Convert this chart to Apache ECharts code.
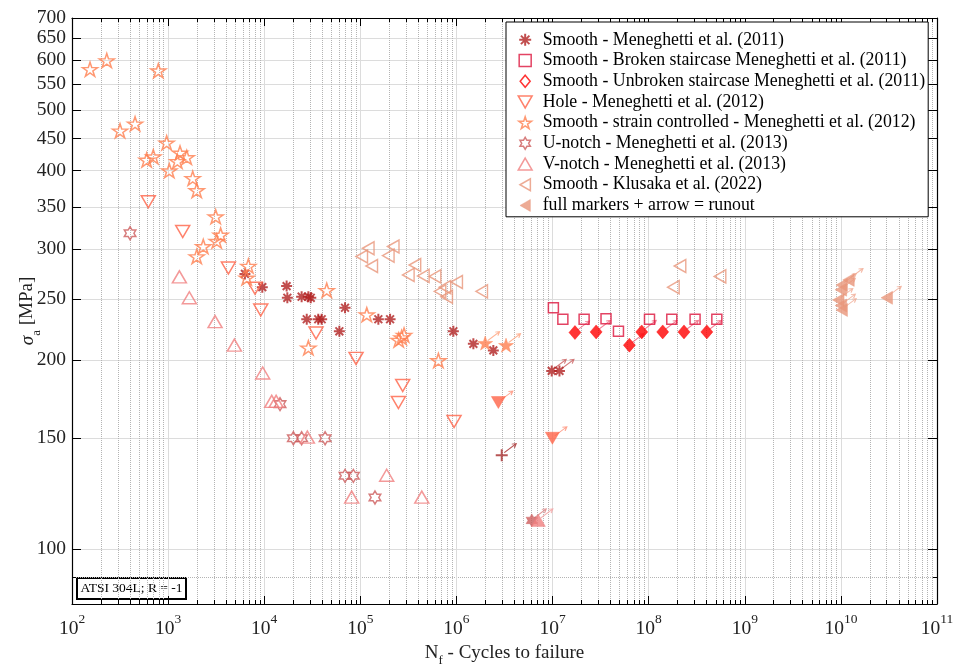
<!DOCTYPE html>
<html><head><meta charset="utf-8">
<script src="https://cdn.jsdelivr.net/npm/echarts@6/dist/echarts.min.js"></script>
<style>html,body{margin:0;padding:0;background:#fff}#c{width:953px;height:666px}</style>
</head><body><div id="c"></div>
<script>
// ---------- axis ticks ----------
const xDecades = [2,3,4,5,6,7,8,9,10,11];            // exponents of 10
const yTickValues = [100,150,200,250,300,350,400,450,500,550,600,650,700];
const yMinorValues = [90];
const yRange = [81.7, 700];

// ---------- data (N = cycles, S = stress amplitude MPa) ----------
// Smooth - Meneghetti et al. (2011)
const sm11_N = [6300, 9550, 17100, 17400, 24500, 28800, 30500, 27700, 36500, 39600, 69300, 60500, 154000, 204000, 929000, 1500000, 2420000];
const sm11_S = [274, 261, 262, 251, 252, 252, 251, 232, 232, 232, 242, 222, 232, 232, 222, 212, 207];
const sm11Run_N = [9.8e6, 1.18e7];
const sm11Run_S = [192, 192];
const sm11Plus_N = [2.96e6];
const sm11Plus_S = [141];
// Smooth - Broken staircase Meneghetti et al. (2011)
const brk_N = [1.02e7, 1.28e7, 2.13e7, 3.6e7, 4.85e7, 1.02e8, 1.74e8, 3.04e8, 5.12e8];
const brk_S = [242, 232, 232, 232.5, 222, 232, 232, 232, 232];
// Smooth - Unbroken staircase Meneghetti et al. (2011) (runouts)
const unb_N = [1.71e7, 2.84e7, 6.3e7, 8.47e7, 1.4e8, 2.33e8, 4.03e8];
const unb_S = [221, 221.5, 211, 221.5, 221.5, 221.5, 221.5];
// Hole - Meneghetti et al. (2012)
const hole_N = [622, 1419, 4240, 8020, 9200, 34600, 90200, 276000, 249000, 944000];
const hole_S = [357, 320, 280, 260, 240, 220.6, 201, 182, 171, 159.5];
const holeRun_N = [2.73e6, 9.96e6];
const holeRun_S = [171, 150];
// Smooth - strain controlled - Meneghetti et al. (2012)
const sc_N = [154, 230, 791, 316, 453, 966, 598, 701, 1330, 1563, 1248, 1029, 1803, 1985, 3126, 3520, 3204, 2322, 1985, 6840, 6570, 44700, 116700, 28800, 251000, 285000, 269000, 649000];
const sc_S = [580, 599, 577, 463, 475, 443, 416, 421, 427, 420, 414, 400, 389, 372, 338, 316, 309, 303, 292, 282, 270, 258, 236, 209, 215, 219, 217, 199.5];
const scRun_N = [1.99e6, 3.28e6];
const scRun_S = [212.6, 211];
// U-notch - Meneghetti et al. (2013)
const un_N = [402, 14600, 20100, 24500, 43000, 69300, 84600, 142000];
const un_S = [318, 170, 150, 150, 150, 130.7, 130.7, 120.7];
const unRun_N = [6.08e6];
const unRun_S = [111];
// V-notch - Meneghetti et al. (2013)
const vn_N = [1310, 1663, 3080, 4890, 9640, 11970, 13300, 28100, 188000, 81300, 436000];
const vn_S = [271, 251, 230, 211, 190.5, 171.7, 171.7, 150.6, 131, 120.9, 120.9];
const vnRun_N = [7.12e6];
const vnRun_S = [111];
// Smooth - Klusaka et al. (2022)
const kl_N = [121000, 103500, 131500, 220000, 195500, 370000, 316000, 453000, 599000, 1006000, 760000, 675000, 792000, 1833000, 2.12e8, 1.81e8, 5.53e8];
const kl_S = [301, 292, 282, 303, 293, 283, 273, 272, 271.5, 266, 261, 257, 252, 257, 282, 261, 271.5];
const klRun_N = [1.2e10, 1.02e10, 1.0e10, 9.4e9, 1.0e10, 1.02e10, 3.0e10];
const klRun_S = [268, 263, 258.5, 249, 244, 240, 251];

const names = [
  'Smooth - Meneghetti et al. (2011)',
  'Smooth - Broken staircase Meneghetti et al. (2011)',
  'Smooth - Unbroken staircase Meneghetti et al. (2011)',
  'Hole - Meneghetti et al. (2012)',
  'Smooth - strain controlled - Meneghetti et al. (2012)',
  'U-notch - Meneghetti et al. (2013)',
  'V-notch - Meneghetti et al. (2013)',
  'Smooth - Klusaka et al. (2022)',
  'full markers + arrow = runout'
];

// ---------- styling ----------
const FONT = '"Liberation Serif", "Times New Roman", serif';
const COL = {sm11:'#b22222', brk:'#dc143c', unb:'#ff0000', hole:'#ff6347', sc:'#ff7f50', un:'#cd5c5c', vn:'#f08080', kl:'#e9967a'};
const SYM = {
  asterisk: 'path://M0,-10L0,10M-10,0L10,0M-7.07,-7.07L7.07,7.07M-7.07,7.07L7.07,-7.07',
  plus: 'path://M0,-10L0,10M-10,0L10,0',
  square: 'path://M0,0L10,0L10,10L0,10Z',
  diamond: 'path://M5,0L10,6L5,12L0,6Z',
  down: 'path://M0,0L10,0L5,8.66Z',
  up: 'path://M5,0L10,8.66L0,8.66Z',
  left: 'path://M0,5L8.66,0L8.66,10Z',
  star: 'path://M0,-10L2.245,-3.09L9.511,-3.09L3.633,1.18L5.878,8.09L0,3.82L-5.878,8.09L-3.633,1.18L-9.511,-3.09L-2.245,-3.09Z',
  hex: 'path://M0,-10L2.887,-5L8.66,-5L5.774,0L8.66,5L2.887,5L0,10L-2.887,5L-8.66,5L-5.774,0L-8.66,-5L-2.887,-5Z',
  arrow: 'path://M0,9L12,0M7.53,0.54L12,0L10.23,4.14'
};
const NONE = 'rgba(0,0,0,0)';
const lg = v => Math.log10(v);
const pts = (N, S) => N.map((n, i) => [lg(n), lg(S[i])]);

function hollow(name, N, S, sym, size, color, bw) {
  return {type:'scatter', name, data: pts(N,S), symbol: sym, symbolSize: size,
    itemStyle:{color: NONE, borderColor: color, borderWidth: bw || 1.5}, z: 3, silent: true};
}
function filled(name, N, S, sym, size, color) {
  return {type:'scatter', name, data: pts(N,S), symbol: sym, symbolSize: size,
    itemStyle:{color: color, borderColor: color, borderWidth: 0.5}, z: 4, silent: true};
}
function arrows(name, N, S, color) {
  return {type:'scatter', name, data: pts(N,S), symbol: SYM.arrow, symbolSize: [12,9], symbolOffset:[8.5,-7],
    itemStyle:{color: NONE, borderColor: color, borderWidth: 1}, z: 2, silent: true};
}

const series = [
  arrows('a1', sm11Run_N, sm11Run_S, '#c85a5a'),
  arrows('a2', sm11Plus_N, sm11Plus_S, '#a52a2a'),
  arrows('a3', unb_N, unb_S, '#f0607a'),
  arrows('a4', holeRun_N, holeRun_S, '#ff8c73'),
  arrows('a5', scRun_N, scRun_S, '#ffa07a'),
  arrows('a6', unRun_N, unRun_S, '#d98080'),
  arrows('a7', vnRun_N, vnRun_S, '#f4a0a0'),
  arrows('a8', klRun_N, klRun_S, '#f0a890'),
  hollow(names[0], sm11_N, sm11_S, SYM.asterisk, 11, COL.sm11, 2),
  hollow('sm11 runout', sm11Run_N, sm11Run_S, SYM.asterisk, 11, COL.sm11, 2),
  hollow('sm11 plus runout', sm11Plus_N, sm11Plus_S, SYM.plus, 12, '#a52a2a', 2),
  hollow(names[1], brk_N, brk_S, SYM.square, 10, COL.brk, 1.5),
  filled(names[2], unb_N, unb_S, SYM.diamond, [12,14], COL.unb),
  hollow(names[3], hole_N, hole_S, SYM.down, [14,12], COL.hole, 1.5),
  filled('hole runout', holeRun_N, holeRun_S, SYM.down, [14,12], COL.hole),
  hollow(names[4], sc_N, sc_S, SYM.star, [15,14], COL.sc, 1.5),
  filled('sc runout', scRun_N, scRun_S, SYM.star, [15,14], COL.sc),
  hollow(names[5], un_N, un_S, SYM.hex, [11.5,13], COL.un, 1.5),
  filled('un runout', unRun_N, unRun_S, SYM.hex, [11.5,13], COL.un),
  hollow(names[6], vn_N, vn_S, SYM.up, [14,12], COL.vn, 1.5),
  filled('vn runout', vnRun_N, vnRun_S, SYM.up, [14,12], COL.vn),
  hollow(names[7], kl_N, kl_S, SYM.left, [11.5,13], COL.kl, 1.5),
  filled(names[8], klRun_N, klRun_S, SYM.left, [11.5,13], COL.kl)
];

const legendIcons = [
  [SYM.asterisk, NONE, COL.sm11, 2],
  [SYM.square, NONE, COL.brk, 1.5],
  [SYM.diamond, NONE, COL.unb, 1.5],
  [SYM.down, NONE, COL.hole, 1.5],
  [SYM.star, NONE, COL.sc, 1.5],
  [SYM.hex, NONE, COL.un, 1.5],
  [SYM.up, NONE, COL.vn, 1.5],
  [SYM.left, NONE, COL.kl, 1.5],
  [SYM.left, COL.kl, COL.kl, 0.5]
];

const xMinor = [];
for (let e = 2; e < 11; e++) for (let k = 2; k <= 9; k++) xMinor.push(lg(k * Math.pow(10, e)));
const yMajorLog = yTickValues.map(lg);
const yMinorLog = yMinorValues.map(lg);
const X_MIN = xDecades[0], X_MAX = xDecades[xDecades.length - 1];
const Y_MIN = lg(yRange[0]), Y_MAX = lg(yRange[1]);

const AX = {color:'#000', width:1.2};
const base = (extra) => Object.assign({type:'value', min:X_MIN, max:X_MAX, interval:1, axisPointer:{show:false}}, extra);
const ybase = (extra) => Object.assign({type:'value', min:Y_MIN, max:Y_MAX, axisPointer:{show:false}}, extra);

const option = {
  animation: false,
  backgroundColor: '#fff',
  grid: {left:72, right:16, top:18, bottom:62, containLabel:false, outerBoundsMode:'none'},
  xAxis: [
    base({position:'bottom', axisLine:{show:true, onZero:false, lineStyle:AX},
      axisTick:{show:true, inside:true, length:8, lineStyle:{color:'#000'}},
      axisLabel:{margin:8, formatter: v => '{b|10}{s|' + Math.round(v) + '}',
        rich:{b:{fontFamily:FONT, fontSize:19.5, color:'#222', verticalAlign:'bottom', lineHeight:27},
              s:{fontFamily:FONT, fontSize:13.5, color:'#222', verticalAlign:'top', lineHeight:27}}},
      splitLine:{show:true, lineStyle:{color:'#dcdcdc', width:1}},
      name:'{n|N}{f|f}{n| - Cycles to failure}', nameLocation:'middle', nameGap:40, nameMoveOverlap:false,
      nameTextStyle:{rich:{n:{fontFamily:FONT, fontSize:19, color:'#222', verticalAlign:'top', lineHeight:23},
                           f:{fontFamily:FONT, fontSize:13, color:'#222', verticalAlign:'bottom', lineHeight:23}}}}),
    base({position:'bottom', axisLine:{show:false, onZero:false},
      axisTick:{show:true, inside:true, length:4, customValues:xMinor, lineStyle:{color:'#000'}},
      axisLabel:{show:false}, splitLine:{show:true, lineStyle:{color:'#b4b4b4', type:'dotted', width:1}}}),
    base({position:'top', axisLine:{show:true, onZero:false, lineStyle:AX},
      axisTick:{show:true, inside:true, length:8, lineStyle:{color:'#000'}},
      axisLabel:{show:false}, splitLine:{show:false}}),
    base({position:'top', axisLine:{show:false, onZero:false},
      axisTick:{show:true, inside:true, length:4, customValues:xMinor, lineStyle:{color:'#000'}},
      axisLabel:{show:false}, splitLine:{show:false}})
  ],
  yAxis: [
    ybase({position:'left', axisLine:{show:true, onZero:false, lineStyle:AX},
      axisTick:{show:true, inside:true, length:9, customValues:yMajorLog, lineStyle:{color:'#000'}},
      axisLabel:{customValues:yMajorLog, margin:6, formatter: v => String(Math.round(Math.pow(10, v))),
        fontFamily:FONT, fontSize:19.5, color:'#222'},
      splitLine:{show:true, lineStyle:{color:'#dcdcdc', width:1}},
      name:'{g|σ}{a|a}{n| [MPa]}', nameLocation:'middle', nameGap:29, nameMoveOverlap:false,
      nameTextStyle:{rich:{g:{fontFamily:FONT, fontStyle:'italic', fontSize:19, color:'#222', verticalAlign:'top', lineHeight:25},
                           a:{fontFamily:FONT, fontSize:13, color:'#222', verticalAlign:'bottom', lineHeight:25},
                           n:{fontFamily:FONT, fontSize:19, color:'#222', verticalAlign:'top', lineHeight:25}}}}),
    ybase({position:'left', axisLine:{show:false, onZero:false},
      axisTick:{show:true, inside:true, length:4, customValues:yMinorLog, lineStyle:{color:'#000'}},
      axisLabel:{show:false}, splitLine:{show:true, lineStyle:{color:'#b4b4b4', type:'dotted', width:1}}}),
    ybase({position:'right', axisLine:{show:true, onZero:false, lineStyle:AX},
      axisTick:{show:true, inside:true, length:9, customValues:yMajorLog, lineStyle:{color:'#000'}},
      axisLabel:{show:false}, splitLine:{show:false}}),
    ybase({position:'right', axisLine:{show:false, onZero:false},
      axisTick:{show:true, inside:true, length:4, customValues:yMinorLog, lineStyle:{color:'#000'}},
      axisLabel:{show:false}, splitLine:{show:false}})
  ],
  legend: {
    orient:'vertical', left:506, top:22, padding:[7.5,3,1,11.5],
    backgroundColor:'#fff', borderColor:'#000', borderWidth:1,
    itemWidth:25, itemHeight:12, itemGap:0, selectedMode:false,
    textStyle:{fontFamily:FONT, fontSize:17.8, color:'#000', lineHeight:20.7},
    data: names.map((n, i) => ({name:n, icon:legendIcons[i][0],
      itemStyle:{color:legendIcons[i][1], borderColor:legendIcons[i][2], borderWidth:legendIcons[i][3]}}))
  },
  graphic: [{
    type:'group', left:76, top:577, z:100, children:[
      {type:'rect', shape:{x:0, y:0, width:109, height:21}, style:{fill:'#fff', stroke:'#000', lineWidth:2}},
      {type:'text', x:54.5, y:10.5, style:{text:'ATSI 304L; R = -1', font:'13.5px "Liberation Serif"', fill:'#000', align:'center', verticalAlign:'middle'}}
    ]
  }],
  series: series
};

const chart = echarts.init(document.getElementById('c'), null, {renderer:'canvas'});
chart.setOption(option);
</script>
</body></html>
